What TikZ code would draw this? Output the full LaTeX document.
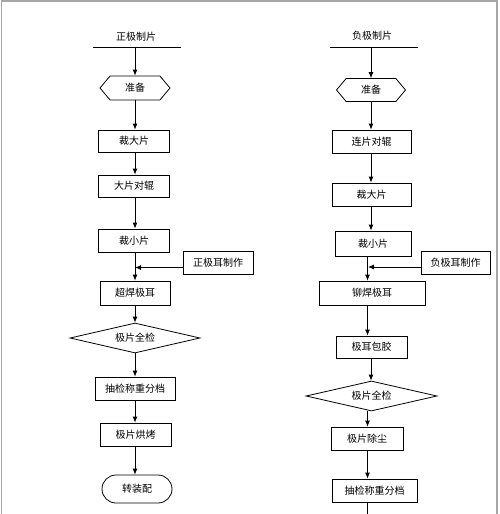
\documentclass[tikz,border=0pt]{standalone}
\usepackage{fontspec}
\setmainfont{Noto Sans CJK SC}
\usetikzlibrary{shapes.geometric,shapes.symbols,shapes.misc,arrows.meta}
\begin{document}
\begin{tikzpicture}[x=1pt,y=-1pt,
  every node/.style={font=\fontsize{10}{12}\selectfont, inner sep=0pt},
  box/.style={draw, line width=0.8pt, rectangle, minimum height=23pt},
  hexa/.style={draw, line width=0.8pt, signal, signal to=west and east, signal pointer angle=100, minimum width=70pt, minimum height=24pt},
  dia/.style={draw, line width=0.8pt, diamond, aspect=4.3, minimum width=130pt, minimum height=30pt},
  term/.style={draw, line width=0.8pt, rounded rectangle, minimum width=70pt, minimum height=28pt},
  arr/.style={line width=0.8pt, -{Latex[length=6pt,width=5pt]}},
  ln/.style={line width=0.8pt}]
\useasboundingbox (0,0) rectangle (500,514);
\draw[gray!70, line width=1.5pt] (1.5,514) -- (1.5,1) -- (497,1) -- (497,514);

% ---------- left column ----------
\coordinate (cL) at (135,0);
\node (tL) at (136,37) {正极制片};
\coordinate (tLa) at (93,47);
\coordinate (tLb) at (181,47);
\draw[ln] (tLa) -- (tLb);
\coordinate (tLc) at (135,47);
\node[hexa] (p1) at (135,88) {准备};
\node[box, minimum width=71pt, minimum height=22pt] (a1) at (134,141) {裁大片};
\node[box, minimum width=71pt, minimum height=22pt] (a2) at (134,186) {大片对辊};
\node[box, minimum width=71pt] (a3) at (134,240.5) {裁小片};
\node[box, minimum width=70pt] (e1) at (218,262.5) {正极耳制作};
\node[box, minimum width=70pt, minimum height=24pt] (a4) at (135,293) {超焊极耳};
\node[dia] (d1) at (135,338) {极片全检};
\node[box, minimum width=80pt] (a5) at (135,388.5) {抽检称重分档};
\node[box, minimum width=71pt] (a6) at (135.5,434.5) {极片烘烤};
\node[term] (a7) at (137,489) {转装配};
\coordinate (j1) at (135,267.5);

\draw[arr] (tLc) -- (tLc |- p1.north);
\draw[arr] (p1.south -| cL) -- (a1.north -| cL);
\draw[arr] (a1.south -| cL) -- (a2.north -| cL);
\draw[arr] (a2.south -| cL) -- (a3.north -| cL);
\draw[arr] (a3.south -| cL) -- (a4.north -| cL);
\draw[arr] (e1.west |- j1) -- (j1);
\draw[arr] (a4.south -| cL) -- (d1.north -| cL);
\draw[arr] (d1.south -| cL) -- (a5.north -| cL);
\draw[arr] (a5.south -| cL) -- (a6.north -| cL);
\draw[arr] (a6.south -| cL) -- (a7.north -| cL);

% ---------- right column ----------
\coordinate (cR) at (371,0);
\coordinate (cS) at (367.5,0);
\node (tR) at (372,36) {负极制片};
\coordinate (tRa) at (330,47);
\coordinate (tRb) at (418,47);
\draw[ln] (tRa) -- (tRb);
\coordinate (tRc) at (371,47);
\node[hexa, minimum width=69pt, minimum height=23pt] (p2) at (371,90) {准备};
\node[box, minimum width=79pt] (b1) at (371.5,141.5) {连片对辊};
\node[box, minimum width=79pt] (b2) at (371.5,194.5) {裁大片};
\node[box, minimum width=76pt, minimum height=25pt] (b3) at (373,243.5) {裁小片};
\node[box, minimum width=69pt] (e2) at (455.5,262.5) {负极耳制作};
\node[box, minimum width=106pt, minimum height=24pt] (b4) at (372,293) {铆焊极耳};
\node[box, minimum width=71pt, minimum height=22pt] (b5) at (371.5,347) {极耳包胶};
\node[dia, minimum width=131pt] (d2) at (371.5,396) {极片全检};
\node[box, minimum width=72pt] (b6) at (367,438.5) {极片除尘};
\node[box, minimum width=85pt] (b7) at (374.5,490.5) {抽检称重分档};
\coordinate (j2) at (368,267);
\coordinate (endR) at (367.5,514);

\draw[arr] (tRc) -- (tRc |- p2.north);
\draw[arr] (p2.south -| cR) -- (b1.north -| cR);
\draw[arr] (b1.south -| cR) -- (b2.north -| cR);
\draw[arr] (b2.south -| cR) -- (b3.north -| cR);
\draw[arr] (b3.south -| cS) -- (b4.north -| cS);
\draw[arr] (e2.west |- j2) -- (j2);
\draw[arr] (b4.south -| cS) -- (b5.north -| cS);
\draw[arr] (b5.south -| cR) -- (d2.north -| cR);
\draw[arr] (d2.south -| cS) -- (b6.north -| cS);
\draw[arr] (b6.south -| cS) -- (b7.north -| cS);
\draw[ln] (b7.south -| cS) -- (endR);
\end{tikzpicture}
\end{document}
